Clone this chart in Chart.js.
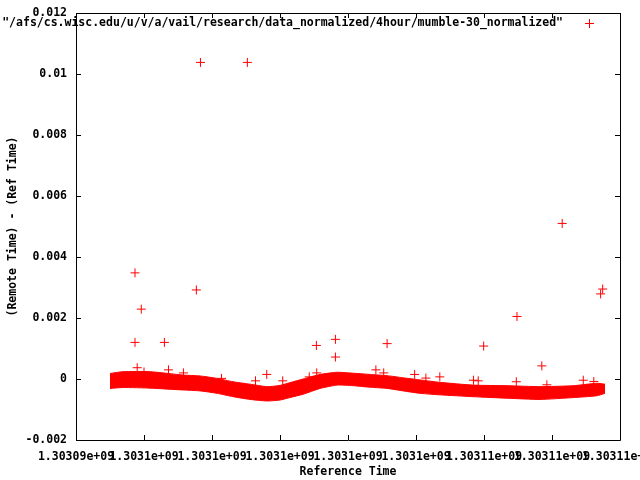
<!DOCTYPE html>
<html>
<head>
<meta charset="utf-8">
<script src="https://cdn.jsdelivr.net/npm/chart.js@4/dist/chart.umd.min.js"></script>
<style>
  html, body { margin: 0; padding: 0; background: #fff; }
  #wrap { width: 640px; height: 480px; }
</style>
</head>
<body>
<div id="wrap"><canvas id="chart" width="640" height="480"></canvas></div>
<script>
// Axis ranges (gnuplot autoscaled)
const xMin = 1303094000, xMax = 1303110000, xStep = 2000
const yMin = -0.002, yMax = 0.012, yStep = 0.002

const keyTitle = '"/afs/cs.wisc.edu/u/v/a/vail/research/data_normalized/4hour/mumble-30_normalized"'

// Dense band of samples: upper / lower envelope
const bandTimes = [
  1303095000, 1303095380, 1303096180, 1303097150, 1303097650, 1303098150,
  1303098620, 1303099120, 1303099620, 1303100000, 1303100290, 1303100680,
  1303101180, 1303101680, 1303102150, 1303102650, 1303103150, 1303103620,
  1303104120, 1303104710, 1303105680, 1303106680, 1303107650, 1303108620,
  1303109320, 1303109560
]
const bandUpper = [
  0.00018, 0.00024, 0.00024, 0.00013, 0.00010, 0.00002,
  -0.00009, -0.00017, -0.00025, -0.00021, -0.00012, 0.00000,
  0.00015, 0.00022, 0.00019, 0.00015, 0.00011, 0.00004,
  -0.00003, -0.00011, -0.00020, -0.00022, -0.00025, -0.00022,
  -0.00014, -0.00017
]
const bandLower = [
  -0.00031, -0.00028, -0.00030, -0.00036, -0.00039, -0.00047,
  -0.00058, -0.00067, -0.00072, -0.00069, -0.00061, -0.00050,
  -0.00031, -0.00020, -0.00022, -0.00027, -0.00031, -0.00039,
  -0.00047, -0.00052, -0.00058, -0.00063, -0.00067, -0.00061,
  -0.00055, -0.00047
]

// Stray samples away from the band
const outlierTimes = [
  1303095735, 1303095920, 1303095735, 1303096600, 1303097540, 1303097660,
  1303099040, 1303101070, 1303101630, 1303101630, 1303103150, 1303105990,
  1303106970, 1303107700, 1303108300, 1303109430, 1303109490,
  1303095800, 1303096000, 1303096720, 1303097160, 1303098280, 1303099280,
  1303099610, 1303100080, 1303100860, 1303101080, 1303102820, 1303103050,
  1303103960, 1303104290, 1303104700, 1303105690, 1303105830, 1303106950,
  1303107850, 1303108920, 1303109230
]
const outlierOffsets = [
  0.00348, 0.00229, 0.00120, 0.00120, 0.00292, 0.01038,
  0.01038, 0.00110, 0.00130, 0.00072, 0.00116, 0.00108,
  0.00205, 0.00043, 0.00510, 0.00279, 0.00295,
  0.00037, 0.00023, 0.00030, 0.00020, 0.00002, -0.00006,
  0.00015, -0.00006, 0.00007, 0.00020, 0.00030, 0.00020,
  0.00015, 0.00003, 0.00007, -0.00004, -0.00006, -0.00009,
  -0.00019, -0.00004, -0.00008
]

const RED = '#ff0000'
const FONT = { family: "'DejaVu Sans Mono', monospace", size: 11.5, weight: 'bold' }

// gnuplot-like %g formatting
function gfmt(v) {
  if (Math.abs(v) < 1e-12) return '0'
  if (Math.abs(v) >= 1e6) {
    let [m, e] = v.toExponential(5).split('e')
    m = parseFloat(m).toString()
    const sign = e[0] === '-' ? '-' : '+'
    e = e.replace(/^[+-]/, '').padStart(2, '0')
    return m + 'e' + sign + e
  }
  return parseFloat(v.toPrecision(6)).toString()
}

// keep the plot box where gnuplot puts it, whatever the label widths
function pinScale(s, size) {
  if (s.isHorizontal()) s.height = size
  else s.width = size
  s.paddingLeft = 0
  s.paddingRight = 0
  s.paddingTop = 0
  s.paddingBottom = 0
}

// border box with inward ticks on all four sides, plus the key
const gnuplotFrame = {
  id: 'gnuplotFrame',
  beforeDatasetsDraw(chart) {
    const { ctx, chartArea: a, scales } = chart
    const tl = 5
    ctx.save()
    ctx.strokeStyle = '#000'
    ctx.lineWidth = 1
    ctx.beginPath()
    ctx.rect(a.left + 0.5, a.top + 0.5, a.right - a.left, a.bottom - a.top)
    scales.x.ticks.forEach(t => {
      const px = Math.round(scales.x.getPixelForValue(t.value)) + 0.5
      ctx.moveTo(px, a.bottom); ctx.lineTo(px, a.bottom - tl)
      ctx.moveTo(px, a.top); ctx.lineTo(px, a.top + tl)
    })
    scales.y.ticks.forEach(t => {
      const py = Math.round(scales.y.getPixelForValue(t.value)) + 0.5
      ctx.moveTo(a.left, py); ctx.lineTo(a.left + tl, py)
      ctx.moveTo(a.right, py); ctx.lineTo(a.right - tl, py)
    })
    ctx.stroke()
    ctx.restore()
  },
  afterDraw(chart) {
    const { ctx, chartArea: a } = chart
    const ky = a.top + 10
    ctx.save()
    ctx.font = `${FONT.weight} ${FONT.size}px ${FONT.family}`
    ctx.fillStyle = '#000'
    ctx.textAlign = 'right'
    ctx.textBaseline = 'middle'
    ctx.fillText(keyTitle, a.right - 57, ky)
    ctx.strokeStyle = RED
    ctx.lineWidth = 1
    const kx = a.right - 30.5
    ctx.beginPath()
    ctx.moveTo(kx - 4.5, ky + 0.5); ctx.lineTo(kx + 4.5, ky + 0.5)
    ctx.moveTo(kx, ky - 4); ctx.lineTo(kx, ky + 5)
    ctx.stroke()
    ctx.restore()
  }
}

const ctx = document.getElementById('chart').getContext('2d')
new Chart(ctx, {
  type: 'line',
  data: {
    datasets: [
      {
        label: 'outliers',
        data: outlierTimes.map((t, i) => ({ x: t, y: outlierOffsets[i] })),
        showLine: false,
        pointStyle: 'cross',
        pointRadius: 4.5,
        pointBorderWidth: 1,
        pointBorderColor: RED,
        pointBackgroundColor: RED
      },
      {
        label: 'band upper',
        data: bandTimes.map((t, i) => ({ x: t, y: bandUpper[i] })),
        borderColor: RED,
        backgroundColor: RED,
        borderWidth: 1,
        pointRadius: 0,
        tension: 0.2,
        fill: '+1'
      },
      {
        label: 'band lower',
        data: bandTimes.map((t, i) => ({ x: t, y: bandLower[i] })),
        borderColor: RED,
        backgroundColor: RED,
        borderWidth: 1,
        pointRadius: 0,
        tension: 0.2,
        fill: false
      }
    ]
  },
  options: {
    responsive: false,
    devicePixelRatio: 1,
    animation: false,
    layout: { padding: { top: 13, right: 20, left: 0, bottom: 0 } },
    plugins: {
      legend: { display: false },
      tooltip: { enabled: false }
    },
    scales: {
      x: {
        type: 'linear',
        position: 'bottom',
        min: xMin,
        max: xMax,
        grid: { display: false, drawTicks: false },
        border: { display: false },
        afterFit: (s) => pinScale(s, 40),
        ticks: {
          stepSize: xStep,
          autoSkip: false,
          maxRotation: 0,
          minRotation: 0,
          padding: 10,
          color: '#000',
          font: FONT,
          callback: (v) => gfmt(v)
        },
        title: {
          display: true,
          text: 'Reference Time',
          color: '#000',
          font: FONT,
          padding: { top: 0, bottom: 1 }
        }
      },
      y: {
        min: yMin,
        max: yMax,
        grid: { display: false, drawTicks: false },
        border: { display: false },
        afterFit: (s) => pinScale(s, 76),
        ticks: {
          stepSize: yStep,
          padding: 9,
          color: '#000',
          font: FONT,
          callback: (v) => gfmt(v)
        },
        title: {
          display: true,
          text: '(Remote Time) - (Ref Time)',
          color: '#000',
          font: FONT,
          padding: { top: 6, bottom: 0 }
        }
      }
    }
  },
  plugins: [gnuplotFrame]
})
</script>
</body>
</html>
